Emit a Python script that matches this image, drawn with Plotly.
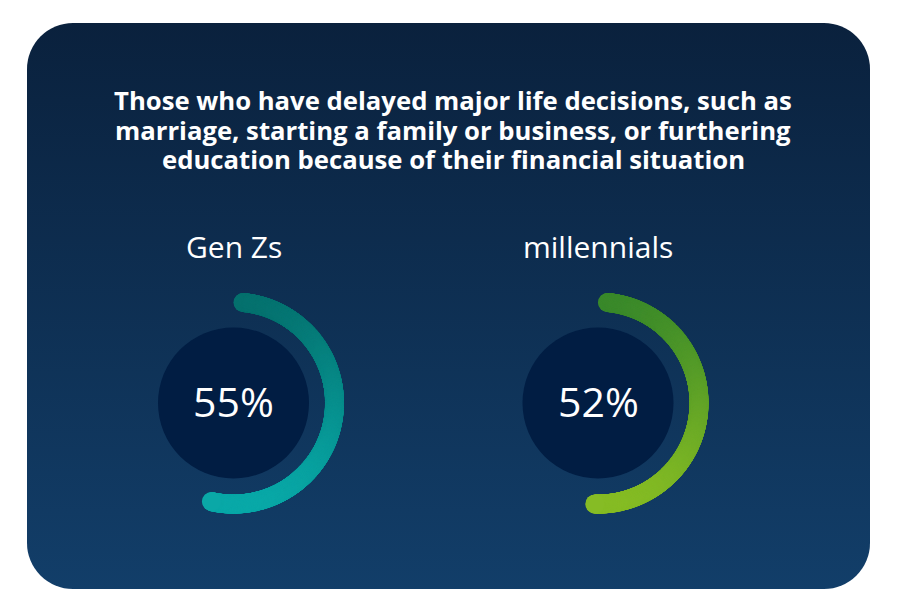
import base64
import numpy as np
import plotly.graph_objects as go

# ---- data ----
groups = ["Gen Zs", "millennials"]
shares = [55, 52]
title_lines = [
    "Those who have delayed major life decisions, such as",
    "marriage, starting a family or business, or furthering",
    "education because of their financial situation",
]

# ---- style / layout ----
W, H = 900, 614
centers_x = [233.5, 598]
cy = 403
R = 101
stroke = 19
inner_r = 75.5
arc_colors = [("#06716e", "#0aa9a8"), ("#3a892b", "#86bc25")]
font = "Open Sans"
title_y = [100, 130, 159]

fig = go.Figure()

# background card: rounded rect with vertical gradient (SVG image)
svg = f'''<svg xmlns="http://www.w3.org/2000/svg" width="{W}" height="{H}" viewBox="0 0 {W} {H}">
<defs><linearGradient id="g" x1="0" y1="0" x2="0" y2="1">
<stop offset="0" stop-color="#0a213d"/><stop offset="1" stop-color="#123e69"/></linearGradient></defs>
<rect x="27" y="23" width="843" height="566" rx="46" ry="46" fill="url(#g)"/></svg>'''
src = "data:image/svg+xml;base64," + base64.b64encode(svg.encode()).decode()
fig.add_layout_image(dict(source=src, xref="x", yref="y", x=0, y=0, sizex=W, sizey=H,
                          xanchor="left", yanchor="top", sizing="stretch", layer="below"))

cap_deg = np.degrees((stroke / 2) / R)
for g, val, cx, (c0, c1) in zip(groups, shares, centers_x, arc_colors):
    # inner circle
    fig.add_shape(type="circle", x0=cx - inner_r, x1=cx + inner_r, y0=cy - inner_r, y1=cy + inner_r,
                  fillcolor="#011d43", line_width=0, layer="above")
    end = val / 100 * 360
    n = int(np.radians(end) * R * 2.5)
    ang = np.radians(np.linspace(cap_deg, end - cap_deg, n))
    xs = cx + R * np.sin(ang)
    ys = cy - R * np.cos(ang)
    fig.add_trace(go.Scatter(
        x=xs, y=ys, mode="markers", hoverinfo="skip", showlegend=False,
        marker=dict(size=stroke, color=ys, colorscale=[[0, c0], [1, c1]],
                    cmin=cy - R, cmax=cy + R, line_width=0, opacity=1),
    ))
    fig.add_annotation(x=cx, y=cy - 2, text=f"{val}%", showarrow=False,
                       font=dict(family=font, size=41, color="white"), xanchor="center", yanchor="middle")
    fig.add_annotation(x=cx, y=246, text=g, showarrow=False,
                       font=dict(family=font, size=30, color="white"), xanchor="center", yanchor="middle")

for t, ty in zip(title_lines, title_y):
    fig.add_annotation(x=453, y=ty, text=f"<b>{t}</b>", showarrow=False,
                       align="center", xanchor="center", yanchor="middle",
                       font=dict(family=font, size=25.7, color="white"))

fig.update_layout(
    width=W, height=H, margin=dict(l=0, r=0, t=0, b=0),
    paper_bgcolor="white", plot_bgcolor="rgba(0,0,0,0)",
    xaxis=dict(range=[0, W], visible=False, fixedrange=True),
    yaxis=dict(range=[H, 0], visible=False, fixedrange=True),
)
fig.write_html("out.html")
